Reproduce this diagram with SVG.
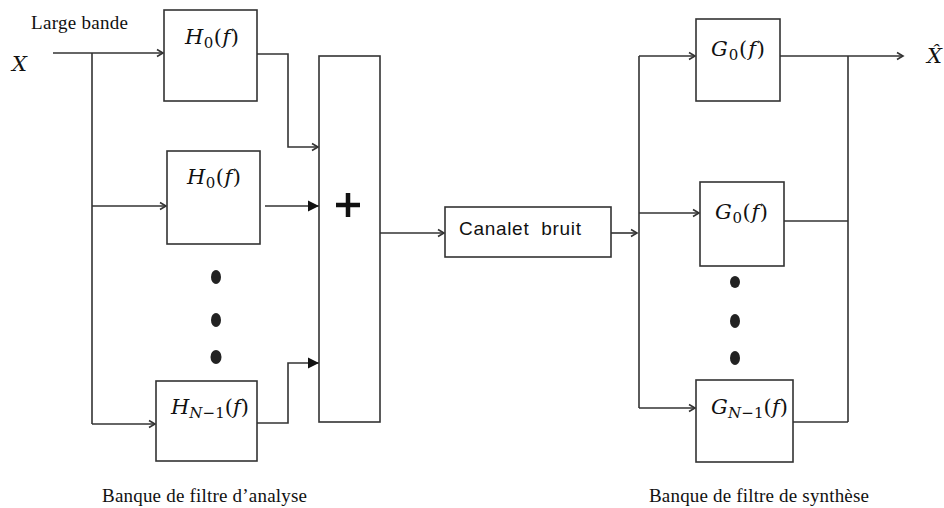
<svg xmlns="http://www.w3.org/2000/svg" width="944" height="508" viewBox="0 0 944 508">
<style>
.box{fill:#fff;stroke:#333;stroke-width:1.6}
.ln{fill:none;stroke:#333;stroke-width:1.6}
.math{font-family:"DejaVu Serif","Liberation Serif",serif;font-size:21px;fill:#111}
.it{font-style:italic}
.sub{font-size:15px}
.lbl{font-family:"Liberation Serif",serif;font-size:19px;fill:#111}
.sans{font-family:"Liberation Sans",Arial,sans-serif;font-size:19px;fill:#111}
.dot{fill:#222}
</style>
<defs>
<marker id="open" markerWidth="10" markerHeight="10" refX="8" refY="5" orient="auto" markerUnits="userSpaceOnUse">
<path d="M2,1.5 L8,5 L2,8.5" fill="none" stroke="#333" stroke-width="1.6"/>
</marker>
<marker id="fill" markerWidth="14" markerHeight="14" refX="12" refY="7" orient="auto" markerUnits="userSpaceOnUse">
<path d="M1,1.5 L12,7 L1,12.5 Z" fill="#111"/>
</marker>
</defs>

<g id="connectors">
<path class="ln" d="M53,53 H163" marker-end="url(#open)"/>
<path class="ln" d="M92,53 V424"/>
<path class="ln" d="M92,206 H166" marker-end="url(#open)"/>
<path class="ln" d="M92,424 H155" marker-end="url(#open)"/>
<path class="ln" d="M257,54 H288 V147 H318" marker-end="url(#open)"/>
<path class="ln" d="M265,206 H319" marker-end="url(#fill)"/>
<path class="ln" d="M257,423 H288 V363 H319" marker-end="url(#fill)"/>
<path class="ln" d="M380,233 H444" marker-end="url(#open)"/>
<path class="ln" d="M611,233 H637" marker-end="url(#open)"/>
<path class="ln" d="M639,56 V408"/>
<path class="ln" d="M639,56 H695" marker-end="url(#open)"/>
<path class="ln" d="M639,213 H699" marker-end="url(#open)"/>
<path class="ln" d="M639,408 H695" marker-end="url(#open)"/>
<path class="ln" d="M780,56 H903" marker-end="url(#open)"/>
<path class="ln" d="M848,56 V422"/>
<path class="ln" d="M784,221 H848"/>
<path class="ln" d="M793,422 H848"/>
</g>

<g id="input-label">
<text class="math it" x="12" y="71">X</text>
<text class="lbl" x="31" y="29" textLength="97">Large bande</text>
</g>

<g id="h0-a">
<rect class="box" x="164" y="10" width="93" height="91"/>
<text class="math" x="185" y="44" textLength="54"><tspan class="it">H</tspan><tspan class="sub" dy="4">0</tspan><tspan dy="-4">(</tspan><tspan class="it">f</tspan>)</text>
</g>

<g id="h0-b">
<rect class="box" x="167" y="151" width="93" height="93"/>
<text class="math" x="187" y="184" textLength="54"><tspan class="it">H</tspan><tspan class="sub" dy="4">0</tspan><tspan dy="-4">(</tspan><tspan class="it">f</tspan>)</text>
</g>

<g id="h-dots">
<ellipse class="dot" cx="216" cy="277" rx="5" ry="7"/>
<ellipse class="dot" cx="216" cy="320" rx="5" ry="7"/>
<ellipse class="dot" cx="216" cy="357" rx="5.5" ry="7"/>
</g>

<g id="hn1">
<rect class="box" x="156" y="381" width="101" height="80"/>
<text class="math" x="171" y="414" textLength="78"><tspan class="it">H</tspan><tspan class="sub" dy="4"><tspan class="it">N</tspan>−1</tspan><tspan dy="-4">(</tspan><tspan class="it">f</tspan>)</text>
</g>

<g id="sum">
<rect class="box" x="319" y="56" width="61" height="366"/>
<path d="M336,205 H360 M348,193 V217" stroke="#111" stroke-width="4.5" fill="none"/>
</g>

<g id="canal">
<rect class="box" x="445" y="207" width="166" height="50"/>
<text class="sans" x="459" y="235" textLength="122" xml:space="preserve">Canalet  bruit</text>
</g>

<g id="g0-a">
<rect class="box" x="696" y="19" width="84" height="82"/>
<text class="math" x="711" y="56" textLength="54"><tspan class="it">G</tspan><tspan class="sub" dy="4">0</tspan><tspan dy="-4">(</tspan><tspan class="it">f</tspan>)</text>
</g>

<g id="g0-b">
<rect class="box" x="700" y="182" width="84" height="84"/>
<text class="math" x="715" y="219" textLength="53"><tspan class="it">G</tspan><tspan class="sub" dy="4">0</tspan><tspan dy="-4">(</tspan><tspan class="it">f</tspan>)</text>
</g>

<g id="g-dots">
<ellipse class="dot" cx="735" cy="282" rx="5" ry="6"/>
<ellipse class="dot" cx="735" cy="321" rx="5" ry="7"/>
<ellipse class="dot" cx="735" cy="358" rx="5" ry="7"/>
</g>

<g id="gn1">
<rect class="box" x="696" y="380" width="97" height="82"/>
<text class="math" x="711" y="414" textLength="77"><tspan class="it">G</tspan><tspan class="sub" dy="4"><tspan class="it">N</tspan>−1</tspan><tspan dy="-4">(</tspan><tspan class="it">f</tspan>)</text>
</g>

<g id="output-label">
<text class="math it" x="927" y="63">X̂</text>
</g>

<g id="captions">
<text class="lbl" x="102" y="502" textLength="205">Banque de filtre d’analyse</text>
<text class="lbl" x="649" y="502" textLength="220">Banque de filtre de synthèse</text>
</g>
</svg>
